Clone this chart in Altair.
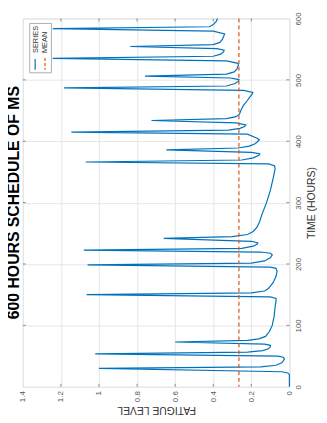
import altair as alt
import pandas as pd

# ---- data ----
TIME = [0, 20, 22.5, 24.5, 30.0, 32.5, 35, 39, 43, 45.5, 48, 50,
        53.6, 56.5, 59, 62, 65, 67.5, 69.5,
        72.9, 75.5, 78, 82, 90, 100, 115, 130, 140, 144, 146.5,
        150.1, 153, 156, 160, 170, 180, 188, 193, 195,
        198.5, 201.5, 205, 210, 215, 217.5, 219.5,
        222.5, 225.5, 229, 232, 234.5, 237,
        241.8, 244.5, 248, 253, 260, 270, 280, 300, 320, 340, 355, 360, 363,
        366.2, 369.5, 373, 377, 379.6, 382,
        386, 389, 392, 396, 400, 402.5, 405, 411.5,
        415, 418, 421, 424, 426.5, 430,
        433.8, 437, 440, 444, 450, 458, 466, 472, 477, 479.5, 483,
        486.9, 490, 494, 498, 500.5, 503,
        506.2, 509.5, 513, 518, 524, 527, 531,
        535.1, 538.5, 542, 546, 548.5, 551,
        554.4, 557.5, 561, 566, 571, 575, 579.5,
        583.4, 586.5, 590, 595, 600]
FATIGUE = [0.0, 0.0, 0.008, 0.04, 1.00, 0.15, 0.07, 0.04, 0.03, 0.026, 0.032, 0.06,
           1.02, 0.22, 0.14, 0.11, 0.10, 0.10, 0.13,
           0.60, 0.22, 0.16, 0.125, 0.105, 0.09, 0.08, 0.075, 0.07, 0.07, 0.10,
           1.065, 0.20, 0.13, 0.11, 0.085, 0.07, 0.065, 0.07, 0.10,
           1.06, 0.20, 0.13, 0.10, 0.09, 0.10, 0.15,
           1.08, 0.25, 0.19, 0.17, 0.166, 0.20,
           0.66, 0.30, 0.22, 0.19, 0.17, 0.155, 0.145, 0.12, 0.10, 0.085, 0.075, 0.078, 0.11,
           1.07, 0.25, 0.19, 0.16, 0.156, 0.20,
           0.646, 0.27, 0.21, 0.18, 0.165, 0.158, 0.17, 0.22,
           1.145, 0.32, 0.26, 0.235, 0.229, 0.28,
           0.724, 0.33, 0.28, 0.262, 0.255, 0.242, 0.222, 0.208, 0.195, 0.192, 0.24,
           1.183, 0.33, 0.285, 0.268, 0.265, 0.31,
           0.758, 0.33, 0.29, 0.275, 0.268, 0.27, 0.33,
           1.243, 0.40, 0.36, 0.345, 0.343, 0.38,
           0.836, 0.40, 0.365, 0.352, 0.345, 0.34, 0.40,
           1.243, 0.42, 0.40, 0.385, 0.377]
MEAN_LEVEL = [0.265]
TIME_TICKS = [0, 100, 200, 300, 400, 500, 600]
FATIGUE_TICKS = [0, 0.2, 0.4, 0.6, 0.8, 1.0, 1.2, 1.4]
LEGEND_NAMES = ["SERIES", "MEAN"]
TITLE = ["600 HOURS SCHEDULE OF MS"]
TIME_TITLE = "TIME (HOURS)"
FATIGUE_TITLE = "FATIGUE LEVEL"

# ---- styles ----
W, H = 270, 373
FONT = "Liberation Sans"
BLUE = "#0072BD"
ORANGE = "#D95319"
FRAME = "#8c8c8c"
GRID = "#e6e6e6"
LABEL = "#555555"
TEXT = "#333333"

series = pd.DataFrame({"t": TIME, "f": FATIGUE})
fscale = alt.Scale(domain=[0, 1.4], reverse=True, nice=False, zero=False)
tscale = alt.Scale(domain=[0, 600], nice=False, zero=False)

x_axis = alt.Axis(values=FATIGUE_TICKS, format="~g", orient="bottom",
                  labelAngle=270, labelAlign="right", labelBaseline="middle",
                  labelPadding=4, ticks=False, tickSize=0, domain=False,
                  grid=True, gridColor=GRID, gridWidth=1,
                  labelFont=FONT, labelFontSize=8, labelColor=LABEL,
                  titleFont=FONT, titleFontSize=10.5, titleFontWeight="normal",
                  titleColor=TEXT, titleAngle=180, titleX=W / 2, titleY=23,
                  titleAlign="center", titleBaseline="middle")
y_axis = alt.Axis(values=TIME_TICKS, orient="right",
                  labelAngle=270, labelAlign="center", labelBaseline="top",
                  labelPadding=5, ticks=False, tickSize=0, domain=False,
                  grid=True, gridColor=GRID, gridWidth=1,
                  labelFont=FONT, labelFontSize=8, labelColor=LABEL,
                  titleFont=FONT, titleFontSize=10.5, titleFontWeight="normal",
                  titleColor=TEXT, titleAngle=270, titleX=22, titleY=H / 2,
                  titleAlign="center", titleBaseline="middle")

X_ENC = alt.X("f:Q", scale=fscale, axis=x_axis, title=FATIGUE_TITLE)
Y_ENC = alt.Y("t:Q", scale=tscale, axis=y_axis, title=TIME_TITLE)

line = alt.Chart(series).mark_line(color=BLUE, strokeWidth=1.2).encode(
    x=X_ENC, y=Y_ENC, order=alt.Order("t:Q"),
)

mean = alt.Chart(pd.DataFrame({"f": MEAN_LEVEL})).mark_rule(
    color=ORANGE, strokeDash=[4, 3], strokeWidth=1.2
).encode(x=X_ENC)

# inward ticks on all four sides (MATLAB box style)
fticks = pd.DataFrame({"f": FATIGUE_TICKS[1:-1]})
tticks = pd.DataFrame({"t": TIME_TICKS[1:-1]})
top_t = alt.Chart(fticks).mark_rule(color=FRAME).encode(
    x=X_ENC, y=alt.value(0), y2=alt.value(3))
bot_t = alt.Chart(fticks).mark_rule(color=FRAME).encode(
    x=X_ENC, y=alt.value(H), y2=alt.value(H - 3))
left_t = alt.Chart(tticks).mark_rule(color=FRAME).encode(
    y=Y_ENC, x=alt.value(0), x2=alt.value(3))
right_t = alt.Chart(tticks).mark_rule(color=FRAME).encode(
    y=Y_ENC, x=alt.value(W), x2=alt.value(W - 3))

# legend (rotated like the rest of the figure)
one = pd.DataFrame({"k": [0]})
leg_box = alt.Chart(one).mark_rect(fill="white", stroke="#999999", strokeWidth=0.8).encode(
    x=alt.value(7), x2=alt.value(29), y=alt.value(5), y2=alt.value(55))
leg_s_sym = alt.Chart(one).mark_rule(color=BLUE, strokeWidth=1.2).encode(
    x=alt.value(12.5), y=alt.value(41), y2=alt.value(52))
leg_m_sym = alt.Chart(one).mark_rule(color=ORANGE, strokeWidth=1.2, strokeDash=[3, 2]).encode(
    x=alt.value(22.5), y=alt.value(40), y2=alt.value(52))
leg_s_txt = alt.Chart(pd.DataFrame({"name": LEGEND_NAMES[:1]})).mark_text(
    angle=270, align="left", baseline="middle", font=FONT, fontSize=7.5, color=TEXT
).encode(text="name:N", x=alt.value(13), y=alt.value(35))
leg_m_txt = alt.Chart(pd.DataFrame({"name": LEGEND_NAMES[1:]})).mark_text(
    angle=270, align="left", baseline="middle", font=FONT, fontSize=7.5, color=TEXT
).encode(text="name:N", x=alt.value(22.5), y=alt.value(35))

# chart title, rotated with the figure
title = alt.Chart(pd.DataFrame({"title": TITLE})).mark_text(
    angle=270, align="center", baseline="middle", font=FONT, fontSize=16,
    fontWeight="bold", color="black"
).encode(text="title:N", x=alt.value(-8.5), y=alt.value(H / 2))

chart = alt.layer(
    line, mean, top_t, bot_t, left_t, right_t,
    leg_box, leg_s_sym, leg_m_sym, leg_s_txt, leg_m_txt, title
).properties(
    width=W, height=H,
    autosize=alt.AutoSizeParams(type="none"),
    padding={"left": 15, "top": 8, "right": 30, "bottom": 28},
).configure_view(stroke=FRAME, strokeWidth=1).configure(background="white")

chart.save("out.html", embed_options={"renderer": "svg", "actions": False})
